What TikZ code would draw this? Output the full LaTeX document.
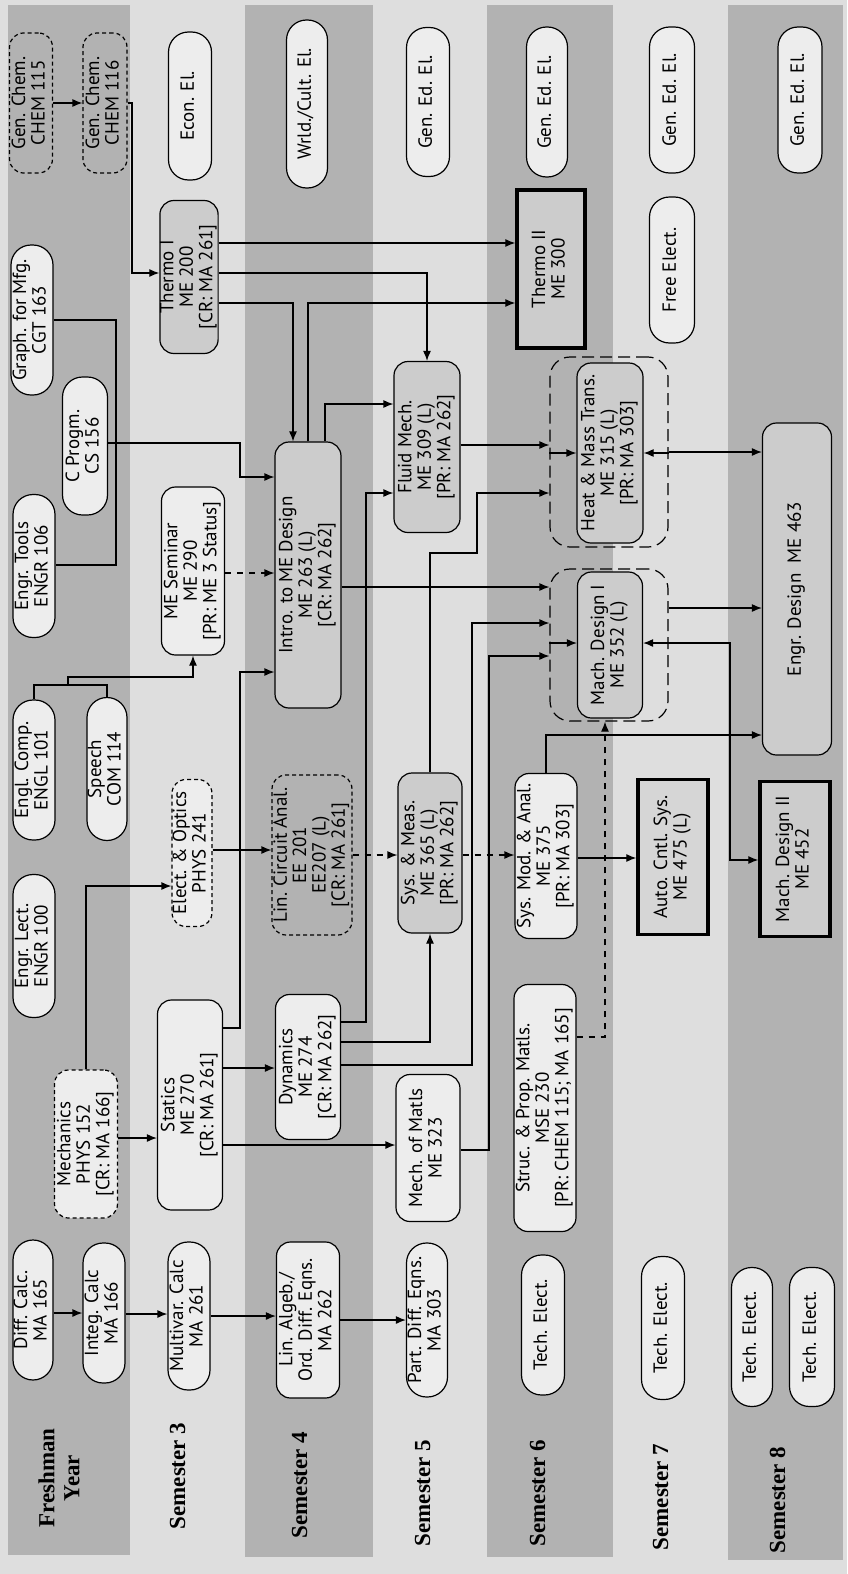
\documentclass[tikz,border=0pt]{standalone}
\usepackage{fontspec}
\setmainfont{PT Sans}
\newfontfamily\labfont{Liberation Serif}
\usepackage{graphicx}
\usepackage{tikz}
\usetikzlibrary{arrows.meta}
\definecolor{darkband}{gray}{0.70}
\definecolor{lightband}{gray}{0.87}
\definecolor{boxw}{gray}{0.93}
\definecolor{boxg}{gray}{0.80}
\newcommand{\rt}[1]{\rotatebox{90}{\begin{tabular}{@{}c@{}}#1\end{tabular}}}

\begin{document}
\begin{tikzpicture}[x=0.5pt,y=-0.5pt,
  course/.style={draw,rounded corners=7pt,inner sep=0pt,line width=0.6pt,fill=boxw,
    font=\fontsize{9.5}{9.7}\selectfont},
  elect/.style={course,rounded corners=10pt},
  core/.style={course,fill=boxg},
  coreq/.style={course,dashed,dash pattern=on 2pt off 1.5pt},
  group/.style={draw,rounded corners=10pt,line width=0.6pt,dash pattern=on 6pt off 3pt},
  capstone/.style={draw,line width=1.7pt,inner sep=0pt,fill=boxg,
    font=\fontsize{9.5}{9.7}\selectfont},
  sz/.style 2 args={minimum width=#1*0.5pt,minimum height=#2*0.5pt},
  arr/.style={-{Latex[length=5pt,width=4pt]},line width=0.6pt},
  link/.style={line width=0.6pt},
  lab/.style={inner sep=0pt,font=\labfont\bfseries\fontsize{11.5}{12.5}\selectfont}]
  \useasboundingbox (0,0) rectangle (847,1574);
  \fill[lightband] (0,0) rectangle (847,1574);
  \fill[darkband] (8,5) rectangle (130,1555);
  \fill[darkband] (245,5) rectangle (373,1557);
  \fill[darkband] (487,5) rectangle (613,1557);
  \fill[darkband] (728,5) rectangle (843,1560);

  \node[lab] (fy) at (62,1478) {\rt{Freshman\\Year}};
  \node[lab] (s3) at (180,1476) {\rt{Semester 3}};
  \node[lab] (s4) at (302,1485) {\rt{Semester 4}};
  \node[lab] (s5) at (425,1493) {\rt{Semester 5}};
  \node[lab] (s6) at (540,1493) {\rt{Semester 6}};
  \node[lab] (s7) at (663,1497) {\rt{Semester 7}};
  \node[lab] (s8) at (780,1500) {\rt{Semester 8}};

  \node[coreq,fill=none,sz={43}{140}] (chem115) at (31,103)  {\rt{Gen. Chem.\\CHEM 115}};
  \node[coreq,fill=none,sz={44}{140}] (chem116) at (105,103) {\rt{Gen. Chem.\\CHEM 116}};
  \node[elect,sz={43}{148}] (econ)  at (190,106) {\rt{Econ. El.}};
  \node[core,sz={58}{153}]  (therm1) at (189,277) {\rt{Thermo I\\ME 200\\{[CR: MA 261]}}};
  \node[elect,sz={42}{150}] (graph) at (32,320)  {\rt{Graph. for Mfg.\\CGT 163}};
  \node[elect,sz={45}{138}] (cprog) at (85,446)  {\rt{C Progm.\\CS 156}};
  \node[elect,sz={42}{143}] (tools) at (34,566)  {\rt{Engr. Tools\\ENGR 106}};
  \node[course,sz={63}{168}] (sem)  at (193,571) {\rt{ME Seminar\\ME 290\\{[PR: ME 3 Status]}}};
  \node[elect,sz={42}{140}] (engl)  at (34,770)  {\rt{Engl. Comp.\\ENGL 101}};
  \node[elect,sz={40}{143}] (speech) at (107,769) {\rt{Speech\\COM 114}};
  \node[elect,sz={42}{143}] (lect)  at (34,946)  {\rt{Engr. Lect.\\ENGR 100}};
  \node[coreq,sz={40}{147}] (optics) at (192,853) {\rt{Elect. \& Optics\\PHYS 241}};
  \node[coreq,sz={63}{148}] (mech)  at (86,1144) {\rt{Mechanics\\PHYS 152\\{[CR: MA 166]}}};
  \node[course,sz={65}{210}] (statics) at (190,1105) {\rt{Statics\\ME 270\\{[CR: MA 261]}}};
  \node[elect,sz={40}{140}] (diff)  at (33,1310)  {\rt{Diff. Calc.\\MA 165}};
  \node[elect,sz={42}{140}] (integ) at (104,1313) {\rt{Integ. Calc\\MA 166}};
  \node[elect,sz={42}{148}] (multi) at (189,1316) {\rt{Multivar. Calc\\MA 261}};
  \node[course,sz={63}{156}] (linalg) at (308,1320) {\rt{Lin. Algeb./\\Ord. Diff. Eqns.\\MA 262}};
  \node[elect,sz={41}{154}] (pde)   at (427,1320) {\rt{Part. Diff. Eqns.\\MA 303}};

  \node[elect,sz={41}{168}] (wrld)  at (307,104) {\rt{Wrld./Cult. El.}};
  \node[elect,sz={43}{149}] (gen5)  at (428,102) {\rt{Gen. Ed. El.}};
  \node[elect,sz={41}{150}] (gen6)  at (547,102) {\rt{Gen. Ed. El.}};
  \node[elect,sz={45}{146}] (gen7)  at (672,100) {\rt{Gen. Ed. El.}};
  \node[elect,sz={44}{146}] (gen8)  at (800,100) {\rt{Gen. Ed. El.}};
  \node[elect,sz={45}{146}] (free)  at (672,270) {\rt{Free Elect.}};
  \node[capstone,sz={68}{158}] (therm2) at (551,269) {\rt{Thermo II\\ME 300}};
  \node[core,sz={66}{266}] (intro)  at (308,575) {\rt{Intro. to ME Design\\ME 263 (L)\\{[CR: MA 262]}}};
  \node[core,sz={66}{171}] (fluid)  at (427,447) {\rt{Fluid Mech.\\ME 309 (L)\\{[PR: MA 262]}}};
  \node[coreq,fill=none,sz={80}{160}] (lin) at (312,855) {\rt{Lin. Circuit Anal.\\EE 201\\EE207 (L)\\{[CR: MA 261]}}};
  \node[course,sz={65}{145}] (dyn)  at (308,1067) {\rt{Dynamics\\ME 274\\{[CR: MA 262]}}};
  \node[core,sz={64}{160}] (meas)   at (430,853) {\rt{Sys. \& Meas.\\ME 365 (L)\\{[PR: MA 262]}}};
  \node[course,sz={64}{147}] (matls) at (428,1148) {\rt{Mech. of Matls\\ME 323}};
  \node[course,sz={62}{165}] (mod)  at (546,856) {\rt{Sys. Mod. \& Anal.\\ME 375\\{[PR: MA 303]}}};
  \node[course,sz={62}{247}] (struc) at (545,1108) {\rt{Struc. \& Prop. Matls.\\MSE 230\\{[PR: CHEM 115; MA 165]}}};
  \node[elect,sz={43}{140}] (tech6) at (543,1325) {\rt{Tech. Elect.}};
  \node[elect,sz={43}{143}] (tech7) at (663,1328) {\rt{Tech. Elect.}};
  \node[elect,sz={41}{139}] (tech8a) at (752,1337) {\rt{Tech. Elect.}};
  \node[elect,sz={45}{139}] (tech8b) at (812,1337) {\rt{Tech. Elect.}};
  \node[group,sz={118}{190}] (hmo) at (609,452) {};
  \node[core,sz={66}{180}] (hm)   at (610,453) {\rt{Heat \& Mass Trans.\\ME 315 (L)\\{[PR: MA 303]}}};
  \node[group,sz={118}{152}] (mdo) at (609,645) {};
  \node[core,sz={65}{146}] (md)   at (610,645) {\rt{Mach. Design I\\ME 352 (L)}};
  \node[core,sz={69}{332}] (engr) at (797,589) {\rt{Engr. Design~~ME 463}};
  \node[capstone,fill=boxg!80!white,sz={70}{155}] (auto) at (673,857) {\rt{Auto. Cntl. Sys.\\ME 475 (L)}};
  \node[capstone,sz={70}{155}] (md2) at (795,859) {\rt{Mach. Design II\\ME 452}};

  \draw[arr] (chem115.east) -- (chem116.west);
  \draw[arr] (chem116.east) -- (132,103) |- (therm1.west |- 0,273);
  \draw[link] (graph.east |- 0,320) -- (116,320) -- (116,565) -- (tools.east |- 0,565);
  \draw[arr] (cprog.east |- 0,443) -- (240,443) |- (intro.west |- 0,477);
  \draw[link] (engl.north) |- (68,685) -| (speech.north);
  \draw[arr] (68,685) -- (68,677) -| (sem.south);
  \draw[arr,dashed] (sem.east |- 0,573) -- (intro.west |- 0,573);
  \draw[arr] (statics.east |- 0,1028) -- (240,1028) |- (intro.west |- 0,672);
  \draw[arr] (mech.north) |- (optics.west |- 0,886);
  \draw[arr] (mech.east |- 0,1138) -- (statics.west |- 0,1138);
  \draw[arr] (optics.east |- 0,850) -- (lin.west |- 0,850);
  \draw[arr] (statics.east |- 0,1068) -- (dyn.west |- 0,1068);
  \draw[arr] (statics.east |- 0,1145) -- (matls.west |- 0,1145);
  \draw[arr] (diff.east |- 0,1313) -- (integ.west |- 0,1313);
  \draw[arr] (integ.east |- 0,1314) -- (multi.west |- 0,1314);
  \draw[arr] (multi.east |- 0,1316) -- (linalg.west |- 0,1316);
  \draw[arr] (linalg.east) -- (pde.west);

  \draw[arr] (therm1.east |- 0,243) -- (therm2.west |- 0,243);
  \draw[arr] (therm1.east |- 0,273) -| (fluid.north);
  \draw[arr] (therm1.east |- 0,303) -| (293,0 |- intro.north);
  \draw[arr] (intro.north) |- (therm2.west |- 0,303);
  \draw[arr] (intro.north -| 325,0) |- (fluid.west |- 0,404);
  \draw[arr] (dyn.east |- 0,1022) -- (366,1022) |- (fluid.west |- 0,493);
  \draw[arr] (fluid.east |- 0,445) -- (hmo.west |- 0,445);
  \draw[arr] (meas.north) |- (477,553) |- (hmo.west |- 0,493);
  \draw[arr] (intro.east |- 0,587) -- (mdo.west |- 0,587);
  \draw[arr] (dyn.east |- 0,1065) -- (472,1065) |- (mdo.west |- 0,623);
  \draw[arr] (matls.east |- 0,1150) -- (489,1150) |- (mdo.west |- 0,656);
  \draw[arr] (dyn.east |- 0,1042) -| (meas.south);
  \draw[arr,dashed] (lin.east |- 0,855) -- (meas.west |- 0,855);
  \draw[arr,dashed] (meas.east |- 0,855) -- (mod.west |- 0,855);
  \draw[arr] (mod.east |- 0,858) -- (auto.west |- 0,858);
  \draw[arr] (mod.north) |- (engr.west |- 0,735);
  \draw[arr,dashed] (struc.east |- 0,1037) -| (605,0 |- mdo.south);

  \draw[arr] (hmo.west |- hm.west) -- (hm.west);
  \draw[arr] (hmo.east |- hm.east) -- (hm.east);
  \draw[arr] (mdo.west |- 0,643) -- (md.west |- 0,643);
  \draw[arr] (mdo.east |- 0,643) -- (md.east |- 0,643);
  \draw[arr] (hmo.east |- 0,452) -- (engr.west |- 0,452);
  \draw[arr] (mdo.east |- 0,608) -- (engr.west |- 0,608);
  \draw[arr] (mdo.east |- 0,643) -- (730,643) |- (md2.west |- 0,860);
\end{tikzpicture}
\end{document}
